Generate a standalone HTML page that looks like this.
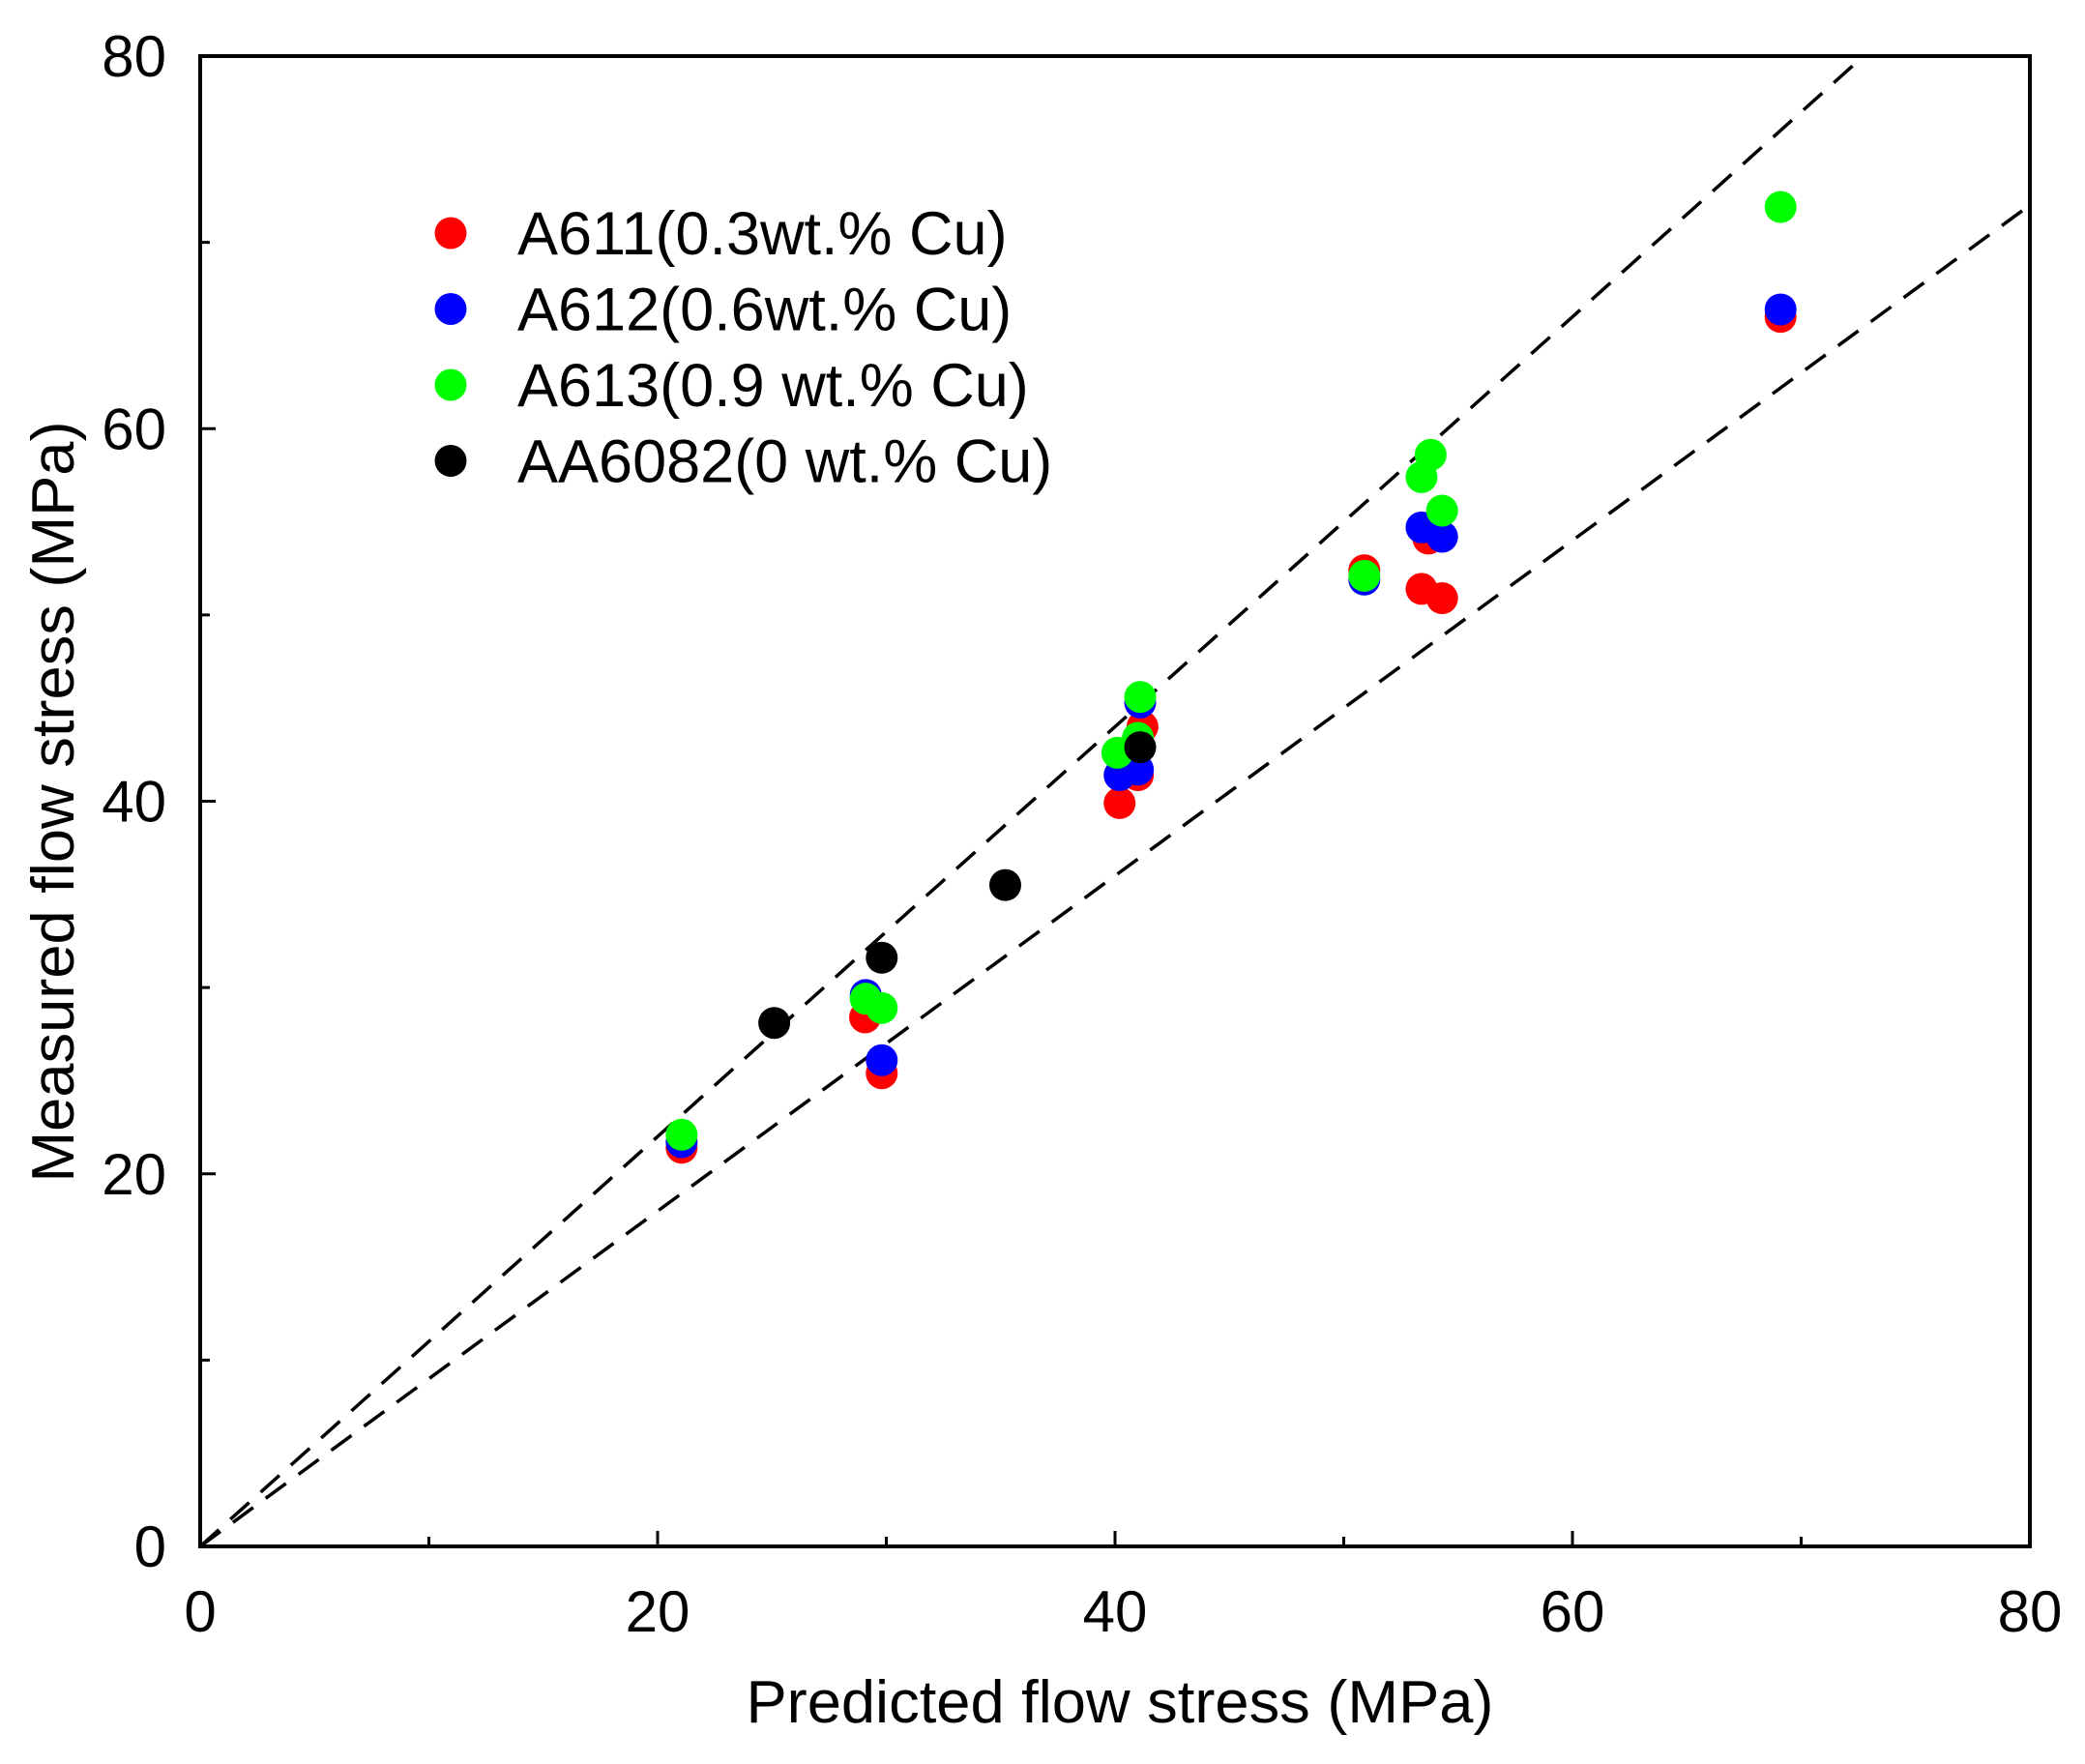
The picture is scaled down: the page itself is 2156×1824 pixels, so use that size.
<!DOCTYPE html>
<html><head><meta charset="utf-8"><style>
html,body{margin:0;padding:0;background:#fff;}
svg{display:block;font-family:"Liberation Sans",Arial,sans-serif;}
</style></head><body>
<svg id="chart" width="2156" height="1824" viewBox="0 0 2156 1824" xmlns="http://www.w3.org/2000/svg">
<g id="grid"></g>
<g id="lines"></g>
<g id="points"></g>
<rect x="207" y="58" width="1892" height="1541" fill="none" stroke="#000" stroke-width="4"/>
<g id="ticks"></g>
<text x="1158" y="1781" font-size="62" text-anchor="middle" transform="translate(1158,0) scale(1.02,1) translate(-1158,0)">Predicted flow stress (MPa)</text>
<text transform="translate(76,829) rotate(-90) scale(1.02,1)" font-size="62" text-anchor="middle">Measured flow stress (MPa)</text>
<g id="legend"></g>
</svg>
<script>
const xTicks=[0,20,40,60,80];
const yTicks=[0,20,40,60,80];
const minorTicks=[10,30,50,70];
const seriesNames=["A611(0.3wt.% Cu)","A612(0.6wt.% Cu)","A613(0.9 wt.% Cu)","AA6082(0 wt.% Cu)"];
const seriesColors=["#ff0000","#0000ff","#00ff00","#000000"];
const a611X=[21.05,29.07,29.8,40.2,41.0,41.2,50.9,53.4,54.3,53.7,69.1];
const a611Y=[21.4,28.4,25.4,39.9,41.4,44.0,52.4,51.4,50.9,54.1,66.0];
const a612X=[21.05,29.1,29.8,40.2,41.0,41.1,50.9,53.4,54.3,69.1];
const a612Y=[21.7,29.6,26.1,41.4,41.7,45.3,51.9,54.7,54.2,66.4];
const a613X=[21.05,29.1,29.8,40.1,41.0,41.1,50.9,53.4,53.8,54.3,69.1];
const a613Y=[22.1,29.4,28.9,42.6,43.4,45.6,52.1,57.4,58.6,55.6,71.9];
const aa6082X=[25.1,29.8,35.2,41.1];
const aa6082Y=[28.1,31.6,35.5,42.9];
const boundSlopes=[1.1,0.9];

const NS="http://www.w3.org/2000/svg";
const X0=207,X1=2099,Y0=1599,Y1=58;
function sx(v){return X0+(v/80)*(X1-X0);}
function sy(v){return Y0-(v/80)*(Y0-Y1);}
function mk(tag,attrs,parent){const e=document.createElementNS(NS,tag);for(const k in attrs)e.setAttribute(k,attrs[k]);parent.appendChild(e);return e;}
const ticksG=document.getElementById('ticks');
xTicks.forEach(t=>{
  const l=mk('line',{x1:sx(t),x2:sx(t),y1:Y0,y2:Y0-16,stroke:'#000','stroke-width':3},ticksG);
  
  
  const tx=mk('text',{x:sx(t),y:1687,'font-size':60,'text-anchor':'middle'},ticksG);
  tx.textContent=t;
  
  
});
yTicks.forEach(t=>{
  const l=mk('line',{x1:X0,x2:X0+16,y1:sy(t),y2:sy(t),stroke:'#000','stroke-width':3},ticksG);
  
  
  const tx=mk('text',{x:172,y:sy(t)+21,'font-size':60,'text-anchor':'end'},ticksG);
  tx.textContent=t;
  
  
});
minorTicks.forEach(t=>{
  const a=mk('line',{x1:sx(t),x2:sx(t),y1:Y0,y2:Y0-10,stroke:'#000','stroke-width':3},ticksG);
  
  
  const b=mk('line',{x1:X0,x2:X0+10,y1:sy(t),y2:sy(t),stroke:'#000','stroke-width':3},ticksG);
  
  
});
const linesG=document.getElementById('lines');
boundSlopes.forEach(s=>{
  let xe=80,ye=80*s; if(ye>80){ye=80;xe=80/s;}
  const l=mk('line',{x1:sx(0),y1:sy(0),x2:sx(xe),y2:sy(ye),stroke:'#000','stroke-width':3.5,'stroke-dasharray':'26 16'},linesG);
  
  
});
const ptsG=document.getElementById('points');
const allX=[a611X,a612X,a613X,aa6082X],allY=[a611Y,a612Y,a613Y,aa6082Y];
const snames=['a611','a612','a613','aa6082'];
allX.forEach((xs,i)=>{
  xs.forEach((x,j)=>{
    const c=mk('circle',{cx:sx(x),cy:sy(allY[i][j]),r:16.5,fill:seriesColors[i]},ptsG);
    
    
  });
});
const legG=document.getElementById('legend');
seriesNames.forEach((n,i)=>{
  const y=241+i*78.5;
  const c=mk('circle',{cx:466,cy:y,r:16.5,fill:seriesColors[i]},legG);
  
  
  const t=mk('text',{x:535,y:y+22,'font-size':63},legG);
  t.textContent=n;
  
  
});
</script>
</body></html>
